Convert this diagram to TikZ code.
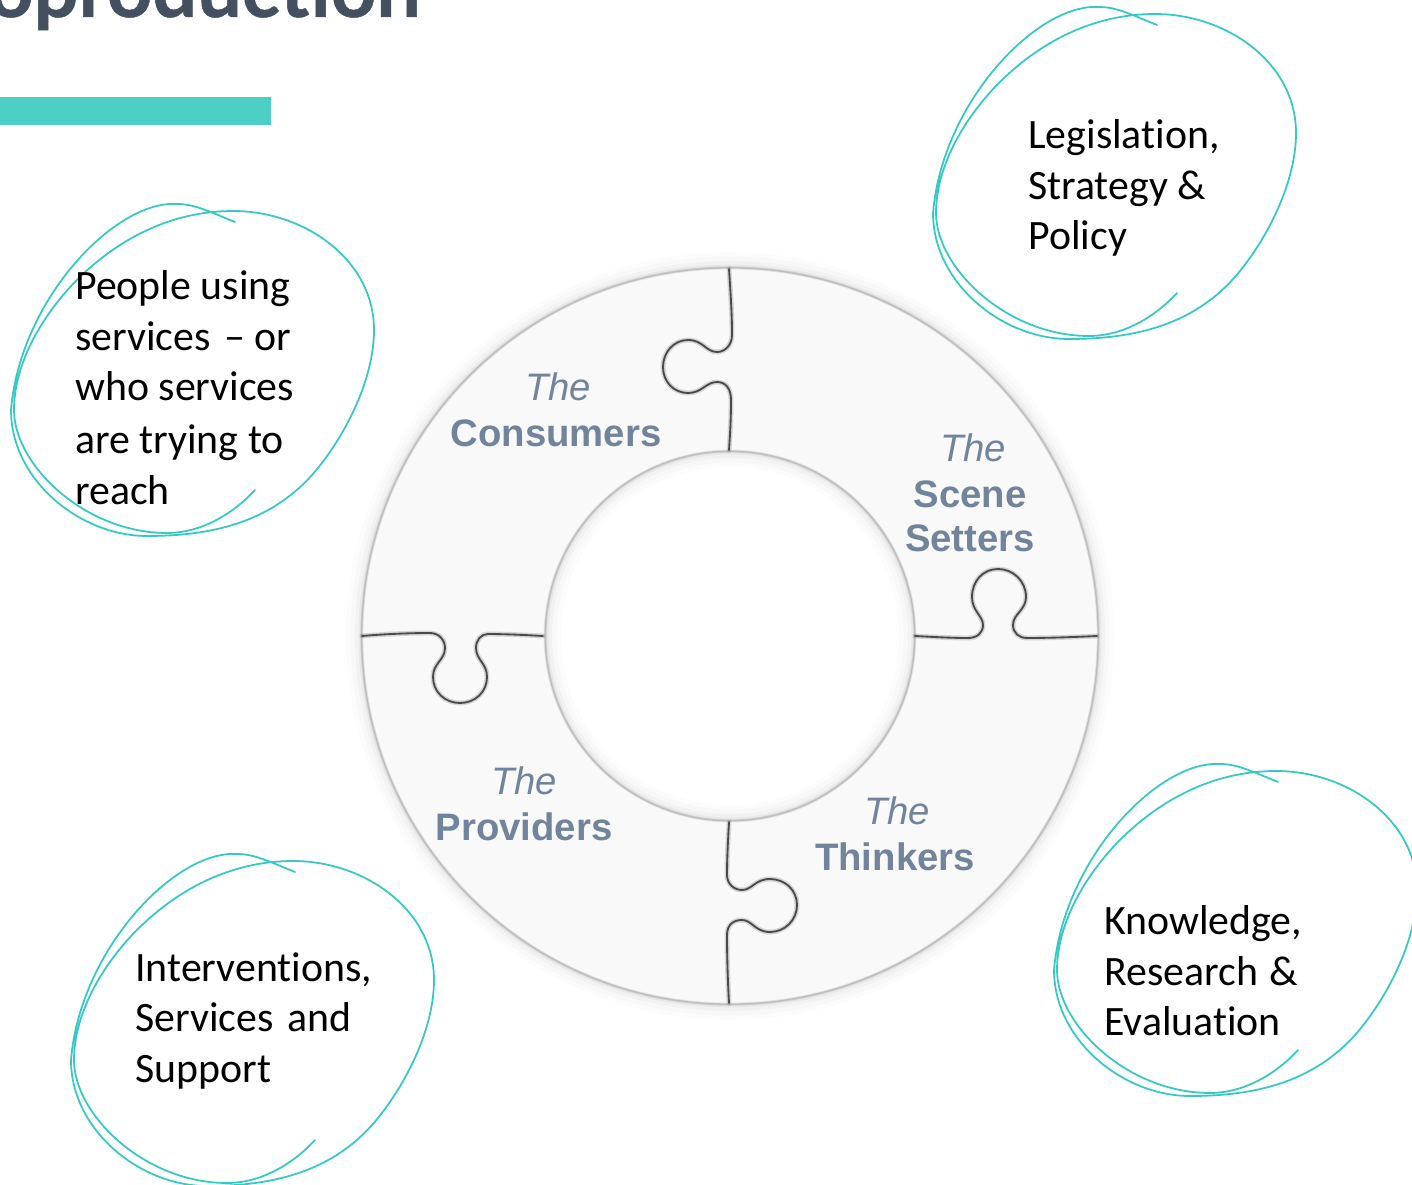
\documentclass[tikz,border=0pt]{standalone}
\usepackage{fontspec}
\setmainfont[Ligatures=NoCommon]{Carlito}
\newfontfamily\ringfont{Liberation Sans}
\newfontfamily\titlefont[BoldFeatures={FakeBold=0.6}]{Lato}
\definecolor{tealbar}{HTML}{4ECFC5}
\definecolor{scribcol}{HTML}{35C9C4}
\definecolor{labelcol}{HTML}{72849C}
\definecolor{titlecol}{HTML}{44505F}
\definecolor{ringfill}{HTML}{F9F9F9}
\definecolor{seamcol}{HTML}{4A4A4A}
\newcommand{\gapword}{\ \hspace{2.5pt}}
\tikzset{
  scribbleline/.style={draw=scribcol,line width=1pt,line join=round,line cap=round},
  blocktext/.style={font=\fontsize{23.8}{28.9}\selectfont,align=left,anchor=north west,inner sep=0pt,text=black},
  ringlabel/.style={font=\ringfont\fontsize{21.8}{25}\selectfont,text=labelcol,inner sep=0pt,anchor=base},
  theword/.style={ringlabel,font=\ringfont\itshape\fontsize{21.8}{25}\selectfont},
  nameword/.style={ringlabel,font=\ringfont\bfseries\fontsize{21.8}{25}\selectfont},
  seamhalo/.style={draw=black,opacity=0.14,line width=2.8pt,line cap=round},
  seamline/.style={draw=seamcol,line width=1.05pt,line cap=round,line join=round},
  scribblepic/.pic={
    \draw[scribbleline] (235,222) .. controls (210,212) and (195,204) .. (177,204)
      .. controls (115,200) and (20,300) .. (11,410)
      .. controls (11,480) and (80,536) .. (147,536)
      .. controls (215,536) and (275,521) .. (318,468)
      .. controls (350,428) and (374,375) .. (374,330)
      .. controls (374,260) and (305,211) .. (233,211)
      .. controls (170,211) and (115,240) .. (72,285)
      .. controls (35,325) and (14,370) .. (14,410)
      .. controls (14,465) and (85,533) .. (167,533)
      .. controls (200,533) and (232,515) .. (255,490);
  }
}
\begin{document}
\begin{tikzpicture}[x=0.02cm,y=-0.02cm]
\useasboundingbox (0,0) rectangle (1412,1185);
\clip (0,0) rectangle (1412,1185);
\fill[white] (0,0) rectangle (1412,1185);

% title and bar
\node[font=\titlefont\bfseries\fontsize{45}{50}\selectfont,text=titlecol,anchor=base east,inner sep=0pt] (title) at (421,17) {Coproduction};
\fill[tealbar] (0,97) rectangle (271,125);

% ring
\coordinate (c) at (730,636);
\foreach \w/\o in {18/0.012,13/0.016,8/0.022,4/0.035,2/0.05}{
  \draw[black,opacity=\o,line width=\w pt] (c) circle[radius=368];
  \draw[black,opacity=\o,line width=\w pt] (c) circle[radius=185];
}
\fill[ringfill,even odd rule] (c) circle[radius=368] (c) circle[radius=185];
\foreach \r in {368,185}{
  \draw[black,opacity=0.08,line width=1.6pt] (c) circle[radius=\r];
  \draw[black!30,opacity=0.65,line width=0.7pt] (c) circle[radius=\r];
}

% seams
\foreach \st in {seamhalo,seamline}{
  \draw[\st] (729,269) .. controls (731,300) and (732,315) .. (732,335) .. controls (732,345) and (725,352) .. (717,352) .. controls (706,352) and (703,340) .. (688,340) .. controls (674,340) and (663,352) .. (663,367) .. controls (663,382) and (674,393) .. (688,393) .. controls (702,393) and (706,382) .. (717,382) .. controls (726,382) and (731,389) .. (731,400) .. controls (731,420) and (730,435) .. (729,450);
  \draw[\st] (915,636) .. controls (935,637) and (950,638) .. (968,638) .. controls (977,638) and (983,633) .. (983,625) .. controls (983,616) and (972,611) .. (972,597) .. controls (972,581) and (983,569) .. (998,569) .. controls (1013,569) and (1026,581) .. (1026,597) .. controls (1026,610) and (1013,614) .. (1013,625) .. controls (1013,633) and (1019,638) .. (1027,638) .. controls (1050,638) and (1075,637) .. (1097,636);
  \draw[\st] (362,636) .. controls (385,634) and (410,633) .. (430,633) .. controls (439,633) and (445,640) .. (445,648) .. controls (445,660) and (433,663) .. (433,677) .. controls (433,692) and (445,703) .. (460,703) .. controls (475,703) and (487,692) .. (487,677) .. controls (487,663) and (476,660) .. (476,648) .. controls (476,640) and (481,634) .. (488,634) .. controls (505,634) and (525,635) .. (543,636);
  \draw[\st] (729,822) .. controls (728,840) and (727,858) .. (727,875) .. controls (727,884) and (734,890) .. (742,890) .. controls (752,890) and (755,879) .. (770,879) .. controls (785,879) and (797,890) .. (797,905) .. controls (797,920) and (785,932) .. (770,932) .. controls (755,932) and (752,920) .. (742,920) .. controls (733,920) and (727,925) .. (727,935) .. controls (727,960) and (728,985) .. (729,1003);
}

% ring labels
\node[theword] (n1a) at (558,400) {The};
\node[nameword] (n1b) at (556,446) {Consumers};
\node[theword] (n2a) at (973,461) {The};
\node[nameword] (n2b) at (970,507) {Scene};
\node[nameword] (n2c) at (970,551) {Setters};
\node[theword] (n3a) at (897,824) {The};
\node[nameword] (n3b) at (895,870) {Thinkers};
\node[theword] (n4a) at (524,794) {The};
\node[nameword] (n4b) at (524,840) {Providers};

% scribbles
\pic at (0,0) {scribblepic};
\pic at (922,-197) {scribblepic};
\pic at (60,650) {scribblepic};
\pic at (1043,560) {scribblepic};

% text blocks
\node[blocktext] (t1) at (75,270) {People using\\services\gapword – or\\who services\\[1pt]are trying to\\reach};
\node[blocktext] (t2) at (1028,119) {Legislation,\\Strategy \&\\Policy};
\node[blocktext] (t3) at (135,952) {Interventions,\\Services\gapword and\\Support};
\node[blocktext] (t4) at (1104,905) {Knowledge,\\Research\ \hspace{1pt}\&\\Evaluation};
\end{tikzpicture}
\end{document}
